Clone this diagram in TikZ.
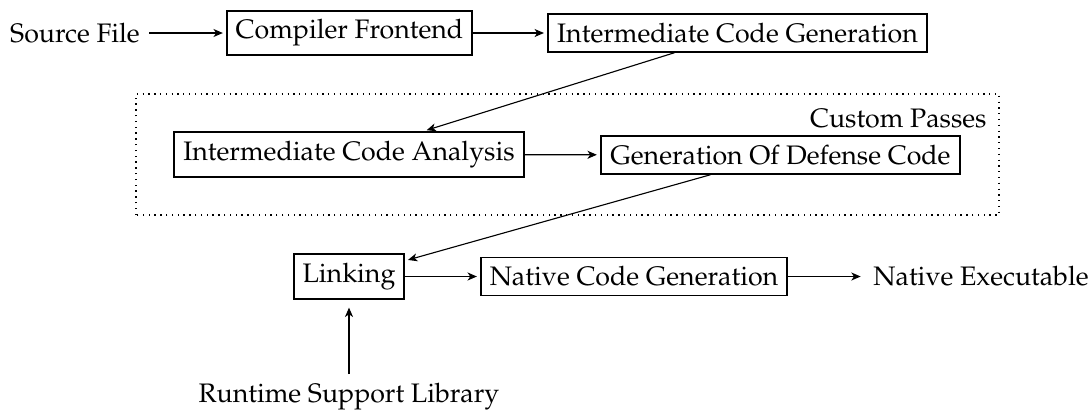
\documentclass[tikz,border=0pt]{standalone}
\usepackage[T1]{fontenc}
\usepackage{mathpazo}
\usetikzlibrary{arrows.meta}

\tikzset{
  box/.style={draw, line width=0.7pt, inner sep=0pt, font=\fontsize{12}{14.4}\selectfont},
  plain/.style={inner sep=4pt, font=\fontsize{12}{14.4}\selectfont},
  flow/.style={-{Stealth[length=4.2pt,width=3.6pt,inset=1.2pt]}, line width=0.5pt, shorten >=1.5pt},
  region/.style={dotted, line width=0.6pt}
}

\begin{document}
\begin{tikzpicture}[x=0.4484pt, y=-0.4484pt]
  \useasboundingbox (0,0) rectangle (1088,412);

  % front end
  \node[plain] (src) at (75,33) {Source File};
  \node[box, minimum width=109.9pt, minimum height=19.7pt] (cf) at (349.5,33) {Compiler Frontend};
  \node[box, minimum width=169.9pt, minimum height=17.0pt] (icg) at (737.5,33) {Intermediate Code Generation};

  % custom passes region
  \coordinate (cpsw) at (136,215);
  \coordinate (cpne) at (999,94);
  \draw[region] (cpsw) rectangle (cpne);
  \node[anchor=base east, inner sep=0pt, font=\fontsize{12}{14.4}\selectfont] (cplabel) at (987,127) {Custom Passes};
  \node[box, minimum width=156.9pt, minimum height=20.2pt] (ica) at (349,154.5) {Intermediate Code Analysis};
  \node[box, minimum width=161.0pt, minimum height=17.0pt] (gdc) at (780.5,155) {Generation Of Defense Code};

  % back end
  \node[box, minimum width=49.3pt, minimum height=20.2pt] (lnk) at (349,276.5) {Linking};
  \node[box, minimum width=137.2pt, minimum height=17.0pt] (ncg) at (634,276.5) {Native Code Generation};
  \node[plain, anchor=west] (ne) at (864,276.5) {Native Executable};
  \node[plain] (rsl) at (349,397) {Runtime Support Library};

  % connectors
  \draw[flow] (src) -- (cf);
  \draw[flow] (cf) -- (icg);
  \draw[flow] (icg) -- (ica);
  \draw[flow] (ica) -- (gdc);
  \draw[flow] (gdc) -- (lnk);
  \draw[flow] (lnk) -- (ncg);
  \draw[flow] (ncg) -- (ne);
  \draw[flow, shorten >=3.5pt] (rsl) -- (lnk);
\end{tikzpicture}
\end{document}
